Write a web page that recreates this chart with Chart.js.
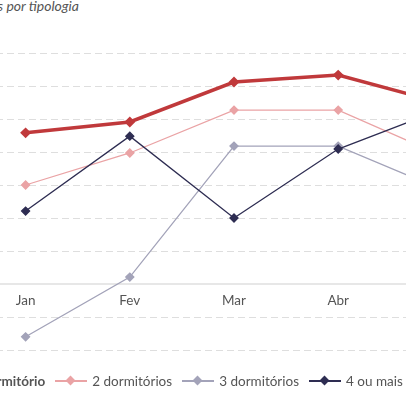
<!DOCTYPE html>
<html><head><meta charset="utf-8">
<script src="https://cdn.jsdelivr.net/npm/chart.js@4"></script>
<style>
body{margin:0;width:406px;height:406px;overflow:hidden;position:relative;background:#fff;font-family:Lato,"Open Sans",sans-serif}
#wrap{position:absolute;left:-34px;top:0;width:536px;height:406px}
#title{position:absolute;right:327px;top:-3px;font-style:italic;font-size:14px;color:#555;white-space:nowrap}
#legend{position:absolute;left:-30px;top:373px;font-size:13.5px;color:#555;white-space:nowrap;display:flex;align-items:center}
.it{display:flex;align-items:center;margin-right:10px}
.ln{position:relative;width:32px;height:2px;margin-right:5px}
.ln i{position:absolute;left:12px;top:-3px;width:7px;height:7px;transform:rotate(45deg)}
</style></head><body>
<div id="title">Vendas por tipologia</div>
<div id="wrap"><canvas id="c" width="536" height="406"></canvas></div>
<div id="legend"></div>
<script>
var months = ['Jan','Fev','Mar','Abr','Mai'];
var seriesNames = ['1 dormitório','2 dormitórios','3 dormitórios','4 ou mais dormitórios'];
var dorm1 = [4.58, 4.91, 6.12, 6.33, 5.48];
var dorm2 = [3.0, 3.97, 5.27, 5.27, 3.88];
var dorm3 = [-1.6, 0.21, 4.18, 4.18, 2.85];
var dorm4 = [2.21, 4.48, 2.0, 4.09, 5.3];
var colors = ['#c0393b','#eaa3a5','#a3a3b9','#2e2d52'];
var widths = [3.5, 1.3, 1.3, 1.3];

var lg = document.getElementById('legend');
seriesNames.forEach(function (n, i) {
    var d = document.createElement('div'); d.className = 'it';
    d.innerHTML = (i ? '<span class="ln" style="background:' + colors[i] + '"><i style="background:' + colors[i] + '"></i></span>' : '') +
        '<span' + (i ? '' : ' style="font-weight:bold"') + '>' + n + '</span>';
    lg.appendChild(d);
});

// month labels sit just under the zero line, plus a solid zero line
var labelsPlugin = {
    id: 'xlabels',
    beforeDatasetsDraw: function (chart) {
        var c = chart.ctx, y0 = chart.scales.y.getPixelForValue(0);
        c.save(); c.strokeStyle = '#d0d0d0'; c.lineWidth = 1.2;
        c.beginPath(); c.moveTo(chart.chartArea.left, y0); c.lineTo(chart.chartArea.right, y0); c.stroke();
        c.restore();
    },
    afterDraw: function (chart) {
        var c = chart.ctx, xs = chart.scales.x, y0 = chart.scales.y.getPixelForValue(0);
        c.save(); c.fillStyle = '#555'; c.font = '13.5px Lato'; c.textAlign = 'center'; c.textBaseline = 'top';
        months.forEach(function (m, i) { c.fillText(m, xs.getPixelForValue(i), y0 + 10); });
        c.restore();
    }
};

var data = [dorm1, dorm2, dorm3, dorm4];
new Chart(document.getElementById('c'), {
    type: 'line',
    data: {
        labels: months,
        datasets: data.map(function (d, i) {
            return { label: seriesNames[i], data: d, borderColor: colors[i], backgroundColor: colors[i],
                borderWidth: widths[i], pointStyle: 'rectRot', pointRadius: i ? 4 : 3, order: 4 - i };
        })
    },
    options: {
        responsive: false, animation: false,
        layout: { padding: { top: 53, bottom: 56, left: 0, right: 0 } },
        plugins: { legend: { display: false }, tooltip: { enabled: false } },
        scales: {
            x: { display: false, offset: true },
            y: { min: -2, max: 7, ticks: { stepSize: 1, display: false },
                border: { display: false, dash: [7, 4] },
                afterFit: function (s) { s.width = 0; },
                grid: { drawTicks: false, color: function (c) { return c.tick.value === 0 ? 'rgba(0,0,0,0)' : '#dedede'; }, lineWidth: 1 } }
        }
    },
    plugins: [labelsPlugin]
});
</script>
</body></html>
